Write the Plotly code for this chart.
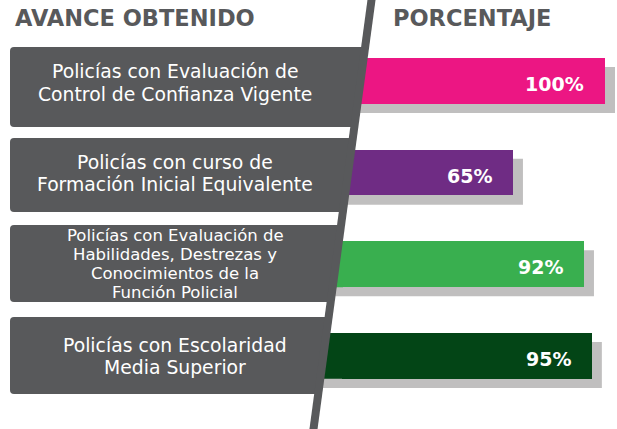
import plotly.graph_objects as go

# ---------------- data ----------------
categories = [
    "Policías con Evaluación de Control de Confianza Vigente",
    "Policías con curso de Formación Inicial Equivalente",
    "Policías con Evaluación de Habilidades, Destrezas y Conocimientos de la Función Policial",
    "Policías con Escolaridad Media Superior",
]
category_lines = [
    ["Policías con Evaluación de", "Control de Confianza Vigente"],
    ["Policías con curso de", "Formación Inicial Equivalente"],
    ["Policías con Evaluación de", "Habilidades, Destrezas y", "Conocimientos de la", "Función Policial"],
    ["Policías con Escolaridad", "Media Superior"],
]
values = [100, 65, 92, 95]
value_labels = ["100%", "65%", "92%", "95%"]
header_left = "AVANCE OBTENIDO"
header_right = "PORCENTAJE"

# ---------------- style ----------------
W, H = 617, 429
bar_colors = ["#EC1683", "#6F2C84", "#39AF4F", "#034516"]
shadow_color = "#C0BFBF"
gray = "#58595B"
FONT = "DejaVu Sans"


def X(px):
    return px / W


def Y(py):
    return 1 - py / H


def line_x(py):
    return 371.5 - 0.1352 * py


fig = go.Figure()
fig.add_trace(go.Bar(
    orientation="h",
    x=values,
    y=categories,
    width=0.5,
    marker=dict(color=bar_colors, line=dict(width=0)),
    hoverinfo="skip",
    showlegend=False,
))

shapes = []
# shadows behind each bar (anchored to the data value)
for i, v in enumerate(values):
    shapes.append(dict(
        type="rect", xref="x", yref="y",
        xsizemode="pixel", xanchor=v, x0=-400, x1=10,
        ysizemode="pixel", yanchor=i, y0=-32, y1=14,
        fillcolor=shadow_color, line=dict(width=0), layer="below",
    ))
# bar continuation tucked behind the slanted divider
for i, c in enumerate(bar_colors):
    shapes.append(dict(
        type="rect", xref="x", yref="y",
        xsizemode="pixel", xanchor=0, x0=-60, x1=1,
        ysizemode="pixel", yanchor=i, y0=-22.9, y1=22.9,
        fillcolor=c, line=dict(width=0), layer="below",
    ))

# label boxes
boxes = [(47, 127), (138, 212), (225, 302), (317, 394)]
left = 10
r = 4
for (t, b) in boxes:
    xr_t = line_x(t)
    xr_b = line_x(b)
    path = (
        f"M {X(left + r)},{Y(t)} L {X(xr_t)},{Y(t)} L {X(xr_b)},{Y(b)} "
        f"L {X(left + r)},{Y(b)} Q {X(left)},{Y(b)} {X(left)},{Y(b - r)} "
        f"L {X(left)},{Y(t + r)} Q {X(left)},{Y(t)} {X(left + r)},{Y(t)} Z"
    )
    shapes.append(dict(type="path", xref="paper", yref="paper", path=path,
                       fillcolor=gray, line=dict(width=0), layer="above"))

# slanted divider
shapes.append(dict(type="line", xref="paper", yref="paper",
                   x0=X(line_x(-5)), y0=Y(-5), x1=X(line_x(434)), y1=Y(434),
                   line=dict(color=gray, width=8), layer="above"))

annotations = []
annotations.append(dict(text=f"<b>{header_left}</b>", xref="paper", yref="paper",
                        x=X(13), y=Y(18), xanchor="left", yanchor="middle",
                        showarrow=False, font=dict(family=FONT, size=22.5, color=gray)))
annotations.append(dict(text=f"<b>{header_right}</b>", xref="paper", yref="paper",
                        x=X(391), y=Y(18), xanchor="left", yanchor="middle",
                        showarrow=False, font=dict(family=FONT, size=22.5, color=gray)))

line_centers = [[71, 93], [161, 183], [234.5, 253.5, 272.5, 291.5], [344, 366]]
line_sizes = [18.8, 18.8, 16.5, 18.8]
for lines, ys, fs in zip(category_lines, line_centers, line_sizes):
    for txt, yy in zip(lines, ys):
        annotations.append(dict(text=txt, xref="paper", yref="paper",
                                x=X(175), y=Y(yy + 1), xanchor="center", yanchor="middle",
                                showarrow=False, font=dict(family=FONT, size=fs, color="white")))

for i, (v, lab) in enumerate(zip(values, value_labels)):
    annotations.append(dict(text=f"<b>{lab}</b>", xref="x", yref="y", x=v, y=i,
                            xanchor="right", yanchor="middle", xshift=-19, yshift=-3,
                            showarrow=False, font=dict(family=FONT, size=19, color="white")))

domain_px = 300          # left edge of the bar plotting area (hidden behind divider)
bar_zero_px = 342        # pixel position of 0 %
px_per_pct = 2.63
fig.update_layout(
    width=W, height=H,
    margin=dict(l=0, r=0, t=0, b=0),
    paper_bgcolor="white", plot_bgcolor="rgba(0,0,0,0)",
    xaxis=dict(domain=[domain_px / W, 1],
               range=[-(bar_zero_px - domain_px) / px_per_pct, (W - bar_zero_px) / px_per_pct],
               visible=False, fixedrange=True),
    yaxis=dict(domain=[Y(401.8), Y(35.2)], type="category", categoryorder="array",
               categoryarray=categories, range=[3.5, -0.5], visible=False, fixedrange=True),
    shapes=shapes,
    annotations=annotations,
    bargap=0,
    showlegend=False,
)

fig.write_html("out.html", config={"displayModeBar": False},
               post_script="document.body.style.margin='0';document.body.style.padding='0';")
